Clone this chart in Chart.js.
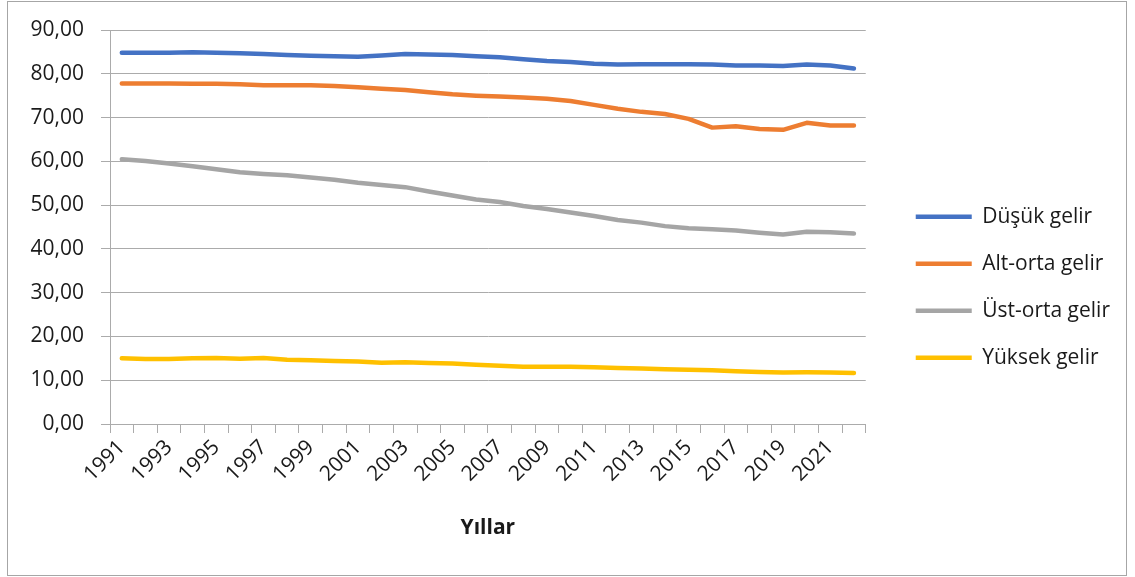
<!DOCTYPE html>
<html>
<head>
<meta charset="utf-8">
<script src="https://cdn.jsdelivr.net/npm/chart.js@4.4.0/dist/chart.umd.min.js"></script>
<style>
  html, body { margin: 0; padding: 0; background: #fff; }
  #wrap { position: relative; width: 1135px; height: 577px; }
  #frame { position: absolute; left: 7px; top: 1px; width: 1118px; height: 573px; border: 1px solid #a6a6a6; pointer-events: none; }
  canvas { position: absolute; left: 0; top: 0; }
</style>
</head>
<body>
<div id="wrap">
  <canvas id="chart" width="1135" height="577"></canvas>
  <div id="frame"></div>
</div>
<script>
const years = ['1991','1992','1993','1994','1995','1996','1997','1998','1999','2000','2001',
  '2002','2003','2004','2005','2006','2007','2008','2009','2010','2011','2012',
  '2013','2014','2015','2016','2017','2018','2019','2020','2021','2022'];

const dusukGelir = [84.8, 84.8, 84.8, 84.9, 84.8, 84.7, 84.5, 84.3, 84.1, 84.0, 83.9,
  84.2, 84.5, 84.4, 84.3, 84.0, 83.8, 83.3, 82.9, 82.7, 82.3, 82.1,
  82.2, 82.2, 82.2, 82.1, 81.9, 81.9, 81.8, 82.1, 81.9, 81.2];

const altOrtaGelir = [77.8, 77.8, 77.8, 77.7, 77.7, 77.6, 77.4, 77.4, 77.4, 77.2, 76.9,
  76.6, 76.3, 75.8, 75.3, 75.0, 74.8, 74.6, 74.3, 73.8, 72.9, 72.0,
  71.3, 70.8, 69.7, 67.7, 68.0, 67.4, 67.2, 68.8, 68.2, 68.2];

const ustOrtaGelir = [60.5, 60.1, 59.5, 58.9, 58.2, 57.5, 57.1, 56.8, 56.3, 55.8, 55.1,
  54.6, 54.1, 53.1, 52.2, 51.3, 50.7, 49.8, 49.1, 48.3, 47.5, 46.6,
  46.0, 45.2, 44.7, 44.5, 44.2, 43.7, 43.3, 43.9, 43.8, 43.5];

const yuksekGelir = [15.0, 14.85, 14.85, 15.0, 15.05, 14.9, 15.05, 14.7, 14.55, 14.4, 14.25,
  14.0, 14.1, 13.95, 13.8, 13.55, 13.3, 13.1, 13.1, 13.1, 12.95, 12.8,
  12.65, 12.5, 12.4, 12.25, 12.05, 11.9, 11.75, 11.8, 11.75, 11.65];

const textColor = '#1a1a1a';
const gridColor = '#ababab';
const font = { family: '"Open Sans", sans-serif', size: 21 };

function line(label, data, color) {
  return {
    label,
    data,
    borderColor: color,
    backgroundColor: color,
    borderWidth: 4.5,
    borderCapStyle: 'round',
    borderJoinStyle: 'round',
    pointRadius: 0,
    tension: 0,
    fill: false
  };
}

// push the legend a bit away from the plot, like the excel layout
const legendGap = {
  id: 'legendGap',
  afterLayout(chart) {
    chart.legend.left += 24;
    chart.legend.right += 24;
    chart.legend.top += 2;
    chart.legend.bottom += 2;
  }
};

new Chart(document.getElementById('chart'), {
  type: 'line',
  data: {
    labels: years,
    datasets: [
      line('Düşük gelir', dusukGelir, '#4472C4'),
      line('Alt-orta gelir', altOrtaGelir, '#ED7D31'),
      line('Üst-orta gelir', ustOrtaGelir, '#A5A5A5'),
      line('Yüksek gelir', yuksekGelir, '#FFC000')
    ]
  },
  plugins: [legendGap],
  options: {
    responsive: false,
    animation: false,
    layout: { padding: { left: 0, top: 30, right: 39, bottom: 36.4 } },
    plugins: {
      tooltip: { enabled: false },
      legend: {
        position: 'right',
        labels: {
          usePointStyle: true,
          pointStyle: 'line',
          pointStyleWidth: 56,
          padding: 26,
          color: textColor,
          font
        }
      }
    },
    scales: {
      x: {
        offset: true,
        grid: { offset: true, drawOnChartArea: false, drawTicks: true, tickLength: 9, color: gridColor },
        border: { color: gridColor },
        ticks: {
          autoSkip: false,
          minRotation: 45,
          maxRotation: 45,
          padding: 2,
          color: textColor,
          font,
          callback: (v, i) => (i % 2 === 0 ? years[i] : '')
        },
        title: {
          display: true,
          text: 'Yıllar',
          color: textColor,
          font: { family: font.family, size: 21, weight: 'bold' },
          padding: { top: 0, bottom: 0 }
        },
        afterFit(s) { s.height = 116.6; }
      },
      y: {
        min: 0,
        max: 90,
        grid: { color: gridColor, tickLength: 9 },
        border: { color: gridColor },
        ticks: {
          stepSize: 10,
          padding: 17,
          color: textColor,
          font,
          callback: v => v.toFixed(2).replace('.', ',')
        },
        afterFit(s) { s.width = 110; }
      }
    }
  }
});
</script>
</body>
</html>
